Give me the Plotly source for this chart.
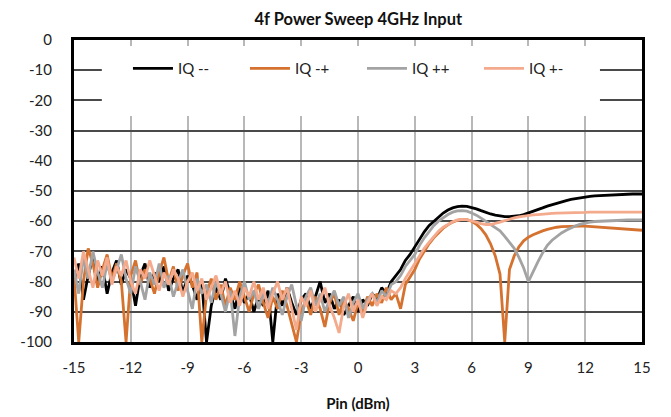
import numpy as np
import plotly.graph_objects as go

# x grid: Pin (dBm), -15 .. 15 in 0.25 steps
pin = np.round(np.arange(-15, 15.001, 0.25), 2)

# --- noisy region values, x = -15 .. 2 (69 points) ---
iq_mm_low = [-80, -74, -86, -78, -72, -80, -75, -84, -77, -73, -81, -76, -79, -88, -78, -74,
             -82, -77, -80, -75, -83, -79, -76, -84, -78, -81, -86, -80, -100, -88, -82, -86,
             -79, -84, -89, -82, -87, -84, -90, -85, -88, -83, -100, -84, -88, -82, -87, -91,
             -86, -84, -89, -85, -80, -87, -84, -89, -86, -91, -88, -85, -90, -86, -88, -84,
             -86, -82, -84, -80, -78]
iq_mp_low = [-78, -100, -80, -69, -74, -82, -76, -71, -79, -74, -80, -100, -78, -73, -81, -76,
             -79, -84, -77, -72, -80, -75, -83, -78, -74, -82, -77, -100, -84, -79, -86, -81,
             -88, -82, -86, -80, -85, -90, -84, -81, -87, -92, -85, -89, -83, -88, -94, -100,
             -90, -86, -91, -85, -89, -95, -87, -84, -91, -86, -89, -93, -87, -90, -85, -88,
             -84, -87, -82, -86, -84]
iq_pp_low = [-76, -84, -72, -79, -70, -77, -82, -74, -80, -76, -71, -79, -84, -75, -80, -86,
             -77, -81, -74, -82, -78, -85, -80, -76, -83, -89, -79, -84, -81, -87, -80, -84,
             -90, -83, -98, -85, -80, -86, -83, -89, -84, -87, -82, -86, -91, -85, -81, -88,
             -93, -85, -82, -88, -84, -90, -86, -83, -88, -85, -92, -87, -84, -89, -86, -84,
             -87, -83, -85, -81, -80]
iq_pm_low = [-72, -79, -70, -76, -82, -73, -78, -72, -81, -75, -78, -73, -80, -84, -76, -79,
             -73, -78, -83, -77, -81, -76, -79, -85, -80, -77, -83, -79, -86, -82, -78, -84,
             -80, -87, -83, -88, -82, -85, -80, -86, -82, -89, -84, -80, -86, -82, -89, -96,
             -85, -88, -83, -90, -86, -82, -88, -92, -97, -88, -84, -90, -86, -92, -87, -84,
             -88, -85, -86, -83, -84]

# --- smooth region values, x = 2.25 .. 15 (52 points) ---
iq_mm_high = [-76, -73, -71, -68.5, -66, -63.5, -61.5, -60, -58.5, -57.3, -56.3, -55.6, -55.2,
              -55, -55.1, -55.4, -55.9, -56.5, -57.1, -57.6, -58, -58.3, -58.5, -58.5, -58.4,
              -58.2, -57.8, -57.3, -56.8, -56.2, -55.6, -55, -54.5, -54, -53.6, -53.2, -52.8,
              -52.5, -52.2, -52, -51.8, -51.6, -51.5, -51.4, -51.3, -51.2, -51.1, -51.1, -51,
              -51, -51, -51]
iq_mp_high = [-89, -81, -78.5, -76, -72.5, -70, -67.5, -65.5, -63.8, -62.3, -61.2, -60.3, -59.7,
              -59.4, -59.5, -60, -61, -62.5, -64.5, -67.5, -71.5, -77.5, -100, -76, -71.5, -68.5,
              -66.5, -65.3, -64.5, -63.8, -63.2, -62.7, -62.3, -62, -61.8, -61.7, -61.6, -61.6,
              -61.6, -61.6, -61.7, -61.8, -61.9, -62, -62.1, -62.3, -62.4, -62.5, -62.7, -62.8,
              -62.9, -63]
iq_pp_high = [-78, -75, -73, -71, -68, -65.5, -63.5, -61.5, -60, -58.8, -57.8, -57, -56.6,
              -56.5, -56.7, -57.3, -58, -59, -60, -61, -62, -63.2, -65, -67, -69, -72, -75.5,
              -80, -76.5, -73.5, -70.5, -68, -66.3, -65, -63.9, -63, -62.2, -61.5, -61, -60.6,
              -60.3, -60.1, -60, -59.9, -59.8, -59.8, -59.7, -59.7, -59.6, -59.6, -59.6, -59.6]
iq_pm_high = [-82, -79, -76.5, -74, -71.5, -69, -67, -65, -63.3, -62, -61, -60.2, -59.6,
              -59.4, -59.5, -59.8, -60.3, -60.8, -61.1, -61.1, -60.8, -60.3, -59.8, -59.3,
              -58.9, -58.6, -58.3, -58.1, -57.9, -57.8, -57.6, -57.5, -57.4, -57.3, -57.3,
              -57.2, -57.2, -57.1, -57.1, -57.1, -57, -57, -57, -57, -57, -57, -57, -57, -57,
              -57, -57, -57]

series_names = ["IQ --", "IQ -+", "IQ ++", "IQ +-"]
series_values = [iq_mm_low + iq_mm_high, iq_mp_low + iq_mp_high,
                 iq_pp_low + iq_pp_high, iq_pm_low + iq_pm_high]
series_colors = ["#000000", "#D5722F", "#A3A3A3", "#F4AA8C"]

x_ticks = [-15, -12, -9, -6, -3, 0, 3, 6, 9, 12, 15]
y_ticks = [0, -10, -20, -30, -40, -50, -60, -70, -80, -90, -100]

FONT = "Lato"

fig = go.Figure()
for name, vals, col in zip(series_names, series_values, series_colors):
    fig.add_trace(go.Scatter(x=pin, y=vals, mode="lines", name=name,
                             line=dict(color=col, width=2.8)))

# white box behind legend (covers gridlines)
fig.add_shape(type="rect", xref="paper", yref="paper",
              x0=0.049, x1=0.926, y0=0.748, y1=0.98,
              fillcolor="white", line=dict(width=0), layer="above")

fig.update_layout(
    width=671, height=417,
    margin=dict(l=74, r=29, t=40, b=75),
    paper_bgcolor="white", plot_bgcolor="white",
    font=dict(family=FONT, size=15, color="#222"),
    title=dict(text="<b>4f Power Sweep 4GHz Input</b>", x=0.534, xanchor="center",
               y=0.955, yanchor="middle", font=dict(family=FONT, size=16.5, color="#111")),
    showlegend=True,
    legend=dict(orientation="h", x=0.095, xanchor="left", y=0.905, yanchor="middle",
                bgcolor="rgba(0,0,0,0)", font=dict(family=FONT, size=15, color="#222"),
                entrywidth=62, itemwidth=40),
)
fig.update_xaxes(range=[-15, 15], tickvals=x_ticks, ticktext=[str(v) for v in x_ticks],
                 showgrid=True, gridcolor="#B8B8B8", gridwidth=2,
                 showline=True, linecolor="black", linewidth=3, mirror=True,
                 ticks="outside", ticklen=10, tickcolor="rgba(0,0,0,0)",
                 zeroline=False, automargin=False,
                 title=dict(text="<b>Pin (dBm)</b>", standoff=24,
                            font=dict(family=FONT, size=15, color="#111")))
fig.update_yaxes(range=[-100, 0], tickvals=y_ticks, ticktext=[str(v) for v in y_ticks],
                 showgrid=True, gridcolor="#4A4A4A", gridwidth=2,
                 showline=True, linecolor="black", linewidth=3, mirror=True,
                 ticks="outside", ticklen=16, tickcolor="rgba(0,0,0,0)",
                 zeroline=False, automargin=False)

fig.write_html("out.html", config={"displayModeBar": False},
               post_script="document.body.style.margin='0px';")
